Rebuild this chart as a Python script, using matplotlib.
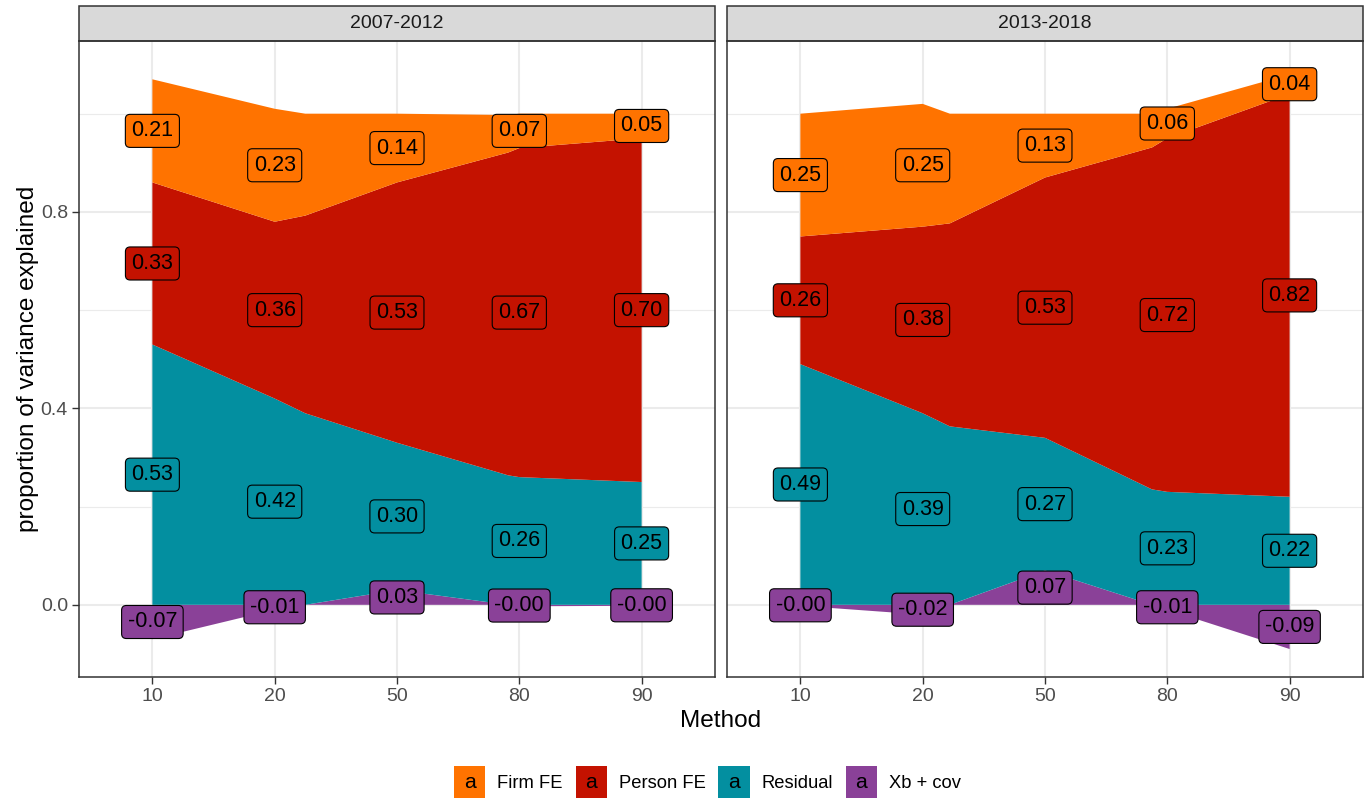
import numpy as np
import matplotlib
matplotlib.use("Agg")
import matplotlib.pyplot as plt
from matplotlib.patches import Rectangle, Patch
from matplotlib.legend_handler import HandlerBase
from matplotlib.text import Text

plt.rcParams["font.family"] = ["Liberation Sans", "DejaVu Sans"]

# ---- data -------------------------------------------------------------
methods = ["10", "20", "50", "80", "90"]
periods = ["2007-2012", "2013-2018"]
components = ["Firm FE", "Person FE", "Residual", "Xb + cov"]

firm_fe = {
    "2007-2012": [0.21, 0.23, 0.14, 0.07, 0.05],
    "2013-2018": [0.25, 0.25, 0.13, 0.06, 0.04],
}
person_fe = {
    "2007-2012": [0.33, 0.36, 0.53, 0.67, 0.70],
    "2013-2018": [0.26, 0.38, 0.53, 0.72, 0.82],
}
residual = {
    "2007-2012": [0.53, 0.42, 0.30, 0.26, 0.25],
    "2013-2018": [0.49, 0.39, 0.27, 0.23, 0.22],
}
xb_cov = {
    "2007-2012": [-0.07, -0.01, 0.03, -0.003, -0.002],
    "2013-2018": [-0.002, -0.02, 0.07, -0.01, -0.09],
}

colors = {
    "Firm FE": "#FF7300",
    "Person FE": "#C41200",
    "Residual": "#038FA0",
    "Xb + cov": "#8A4198",
}

# ---- stacking helpers ---------------------------------------------------
def stacked_layers(x, series_bottom_up):
    """Stack positive and negative parts separately, inserting zero crossings."""
    x = np.asarray(x, float)
    xs = set(x.tolist())
    for s in series_bottom_up:
        s = np.asarray(s, float)
        for i in range(len(x) - 1):
            a, b = s[i], s[i + 1]
            if a * b < 0:
                xs.add(x[i] + a / (a - b) * (x[i + 1] - x[i]))
    xs = np.array(sorted(xs))
    pos = np.zeros_like(xs)
    neg = np.zeros_like(xs)
    layers = []
    for s in series_bottom_up:
        v = np.interp(xs, x, np.asarray(s, float))
        lo = np.where(v >= 0, pos, neg + v)
        hi = np.where(v >= 0, pos + v, neg)
        pos = np.where(v >= 0, pos + v, pos)
        neg = np.where(v < 0, neg + v, neg)
        layers.append((lo, hi))
    return xs, layers


def stacked_midpoints(series_bottom_up):
    n = len(series_bottom_up[0])
    pos = np.zeros(n)
    neg = np.zeros(n)
    mids = []
    for s in series_bottom_up:
        v = np.asarray(s, float)
        lo = np.where(v >= 0, pos, neg + v)
        hi = np.where(v >= 0, pos + v, neg)
        pos = np.where(v >= 0, pos + v, pos)
        neg = np.where(v < 0, neg + v, neg)
        mids.append((lo + hi) / 2)
    return mids


# ---- figure -----------------------------------------------------------
W, H = 1372, 801
fig = plt.figure(figsize=(W / 100, H / 100), dpi=100)

panel_left = [79, 727]
panel_w = 636
panel_top, panel_bot = 41, 677
strip_h = 35

x = np.arange(1, len(methods) + 1)
ylim = (-0.147, 1.148)

grid_col = "#EBEBEB"
border_col = "#333333"

axes = []
for k, p in enumerate(periods):
    ax = fig.add_axes([panel_left[k] / W, 1 - panel_bot / H,
                       panel_w / W, (panel_bot - panel_top) / H])
    axes.append(ax)
    ax.set_xlim(0.4, len(methods) + 0.6)
    ax.set_ylim(*ylim)

    # grid
    for yv in [0.2, 0.6, 1.0]:
        ax.axhline(yv, color=grid_col, lw=0.8, zorder=0)
    for yv in [0.0, 0.4, 0.8]:
        ax.axhline(yv, color=grid_col, lw=1.5, zorder=0)
    for xv in x:
        ax.axvline(xv, color=grid_col, lw=1.5, zorder=0)

    series = [xb_cov[p], residual[p], person_fe[p], firm_fe[p]]
    names = ["Xb + cov", "Residual", "Person FE", "Firm FE"]
    xs, layers = stacked_layers(x, series)
    for (lo, hi), name in zip(layers, names):
        ax.fill_between(xs, lo, hi, facecolor=colors[name], edgecolor="none",
                        linewidth=0, zorder=2)

    mids = stacked_midpoints(series)
    for s, m, name in zip(series, mids, names):
        for xi, vi, yi in zip(x, s, m):
            ax.text(xi, yi, f"{vi:.2f}", ha="center", va="center",
                    fontsize=15.5, color="black", zorder=5,
                    bbox=dict(boxstyle="round,pad=0.28,rounding_size=0.22",
                              fc=colors[name], ec="black", lw=0.8))

    ax.set_xticks(x)
    ax.set_xticklabels(methods)
    ax.set_yticks([0.0, 0.4, 0.8])
    ax.set_yticklabels(["0.0", "0.4", "0.8"])
    ax.tick_params(axis="both", colors=border_col, labelcolor="#4D4D4D",
                   labelsize=14, length=5, width=1.0, pad=3)
    if k == 1:
        ax.tick_params(axis="y", left=False, labelleft=False)
    for sp in ax.spines.values():
        sp.set_color(border_col)
        sp.set_linewidth(1.1)
        sp.set_zorder(6)

    # facet strip
    strip = Rectangle((0, 1), 1, strip_h / (panel_bot - panel_top),
                      transform=ax.transAxes, facecolor="#D9D9D9",
                      edgecolor=border_col, lw=1.1, clip_on=False, zorder=6)
    ax.add_patch(strip)
    ax.text(0.5, 1 + strip_h / 2 / (panel_bot - panel_top), p,
            transform=ax.transAxes, ha="center", va="center",
            fontsize=14, color="#1A1A1A", zorder=7)

axes[0].set_ylabel("proportion of variance explained", fontsize=17.6,
                   color="black", labelpad=1)
fig.text((panel_left[0] + panel_left[1] + panel_w) / 2 / W, 1 - 721 / H,
         "Method", ha="center", va="center", fontsize=17.6, color="black")


# ---- legend -------------------------------------------------------------
class LabelKey(HandlerBase):
    def create_artists(self, legend, orig_handle, xdescent, ydescent,
                       width, height, fontsize, trans):
        r = Rectangle((-xdescent, -ydescent), width, height,
                      facecolor=orig_handle.get_facecolor(), edgecolor="none",
                      transform=trans)
        t = Text(-xdescent + width / 2, -ydescent + height / 2, "a",
                 ha="center", va="center", fontsize=fontsize * 1.15,
                 color="black", transform=trans)
        return [r, t]


handles = [Patch(facecolor=colors[c]) for c in components]
fig.legend(handles, components, handler_map={Patch: LabelKey()},
           loc="center", bbox_to_anchor=(707.5 / W, 1 - 782 / H), ncol=4,
           frameon=False, fontsize=13.2, handlelength=1.7, handleheight=2.3,
           handletextpad=0.65, columnspacing=0.7, borderpad=0)

fig.savefig("out.png", dpi=100)
